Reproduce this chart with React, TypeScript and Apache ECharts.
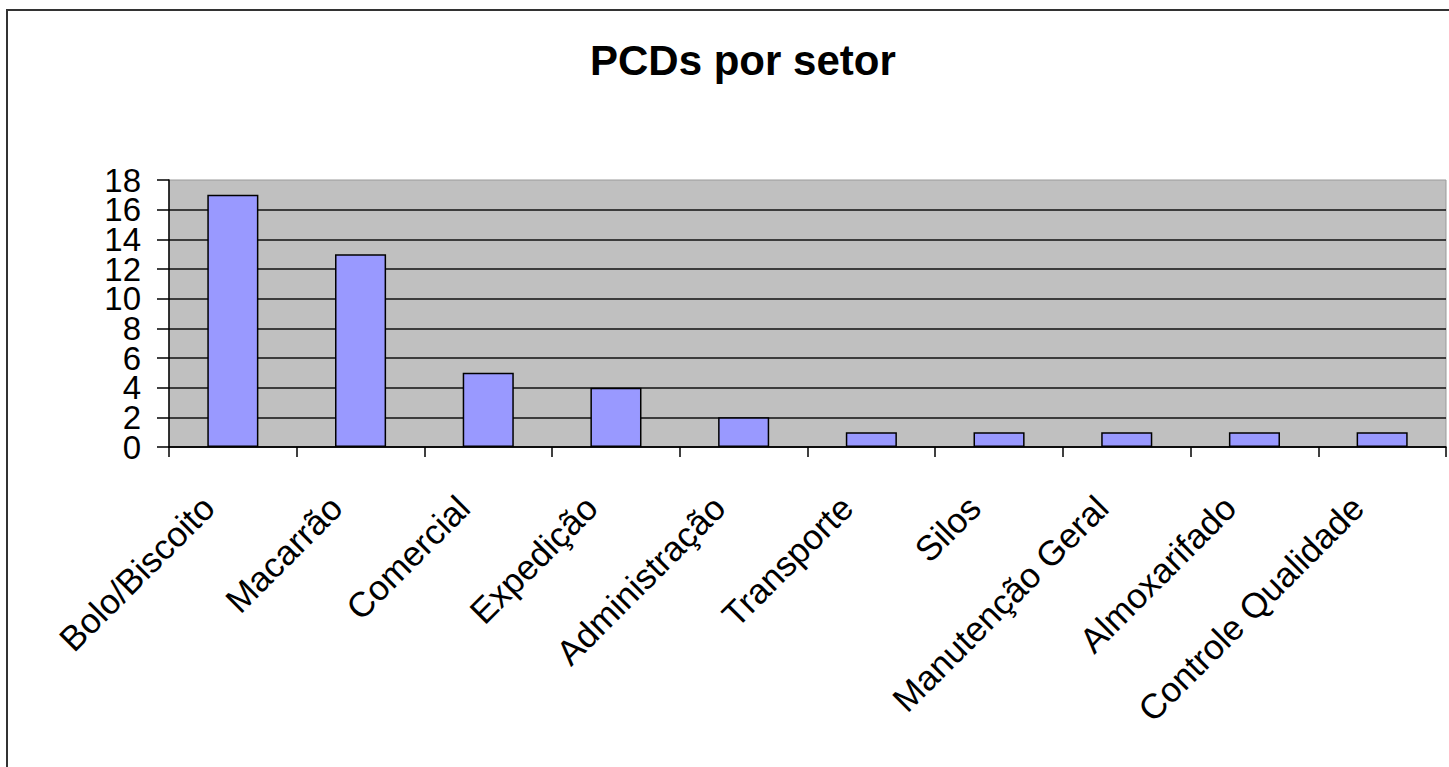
import React, { useEffect, useRef } from "react";
import * as echarts from "echarts";

const categories = [
  "Bolo/Biscoito",
  "Macarrão",
  "Comercial",
  "Expedição",
  "Administração",
  "Transporte",
  "Silos",
  "Manutenção Geral",
  "Almoxarifado",
  "Controle Qualidade",
];
const values = [17, 13, 5, 4, 2, 1, 1, 1, 1, 1];
const chartTitle = "PCDs por setor";
const yMin = 0;
const yMax = 18;
const yStep = 2;

const FONT = "Liberation Sans, Arial, sans-serif";

export default function App() {
  const ref = useRef<HTMLDivElement>(null);
  useEffect(() => {
    if (!ref.current) return;
    const chart = echarts.init(ref.current, undefined, { renderer: "svg" });
    const yLabel = {
      margin: 28,
      fontSize: 33,
      color: "#000",
      fontFamily: FONT,
      hideOverlap: false,
    };
    chart.setOption({
      animation: false,
      backgroundColor: "#ffffff",
      textStyle: { fontFamily: FONT },
      title: {
        text: chartTitle,
        left: 585,
        top: 34,
        textStyle: {
          fontFamily: FONT,
          fontWeight: "bold",
          fontSize: 42,
          color: "#000",
        },
      },
      graphic: [
        {
          type: "rect",
          shape: { x: 7, y: 10, width: 1470, height: 800 },
          style: { fill: "none", stroke: "#333", lineWidth: 2 },
          silent: true,
        },
      ],
      grid: {
        left: 169,
        right: 3,
        top: 180,
        bottom: 320,
        show: true,
        backgroundColor: "#C0C0C0",
        borderColor: "#9a9a9a",
        borderWidth: 1,
      },
      xAxis: {
        type: "category",
        data: categories,
        boundaryGap: true,
        axisLine: { show: true, lineStyle: { color: "#000", width: 1.5 } },
        axisTick: {
          show: true,
          alignWithLabel: false,
          length: 10,
          lineStyle: { color: "#000", width: 1.5 },
        },
        axisLabel: {
          interval: 0,
          rotate: 45,
          margin: 30,
          padding: [0, 35, 0, 0],
          fontSize: 35,
          color: "#000",
          fontFamily: FONT,
        },
        splitLine: { show: false },
      },
      yAxis: [
        {
          type: "value",
          position: "left",
          min: yMin,
          max: yMax,
          interval: yStep,
          axisLine: { show: true, lineStyle: { color: "#000", width: 1.5 } },
          axisTick: {
            show: true,
            inside: false,
            length: 12,
            lineStyle: { color: "#000", width: 1.5 },
          },
          axisLabel: { ...yLabel, showMinLabel: false, showMaxLabel: false },
          splitLine: {
            show: true,
            showMaxLine: false,
            lineStyle: { color: "#111", width: 1.5 },
          },
        },
        {
          type: "value",
          position: "left",
          offset: 0,
          min: yMin,
          max: yMax,
          interval: yMax - yMin,
          axisLine: { show: false },
          axisTick: {
            show: true,
            inside: false,
            length: 12,
            lineStyle: { color: "#000", width: 1.5 },
          },
          axisLabel: { ...yLabel, showMinLabel: true, showMaxLabel: true },
          splitLine: { show: false },
        },
      ],
      series: [
        {
          type: "bar",
          yAxisIndex: 0,
          data: values,
          barWidth: "40%",
          itemStyle: {
            color: "#9999FF",
            borderColor: "#000",
            borderWidth: 1.5,
          },
        },
      ],
    });
    return () => chart.dispose();
  }, []);
  return (
    <div
      ref={ref}
      style={{ position: "fixed", left: 0, top: 0, width: 1449, height: 767 }}
    />
  );
}
